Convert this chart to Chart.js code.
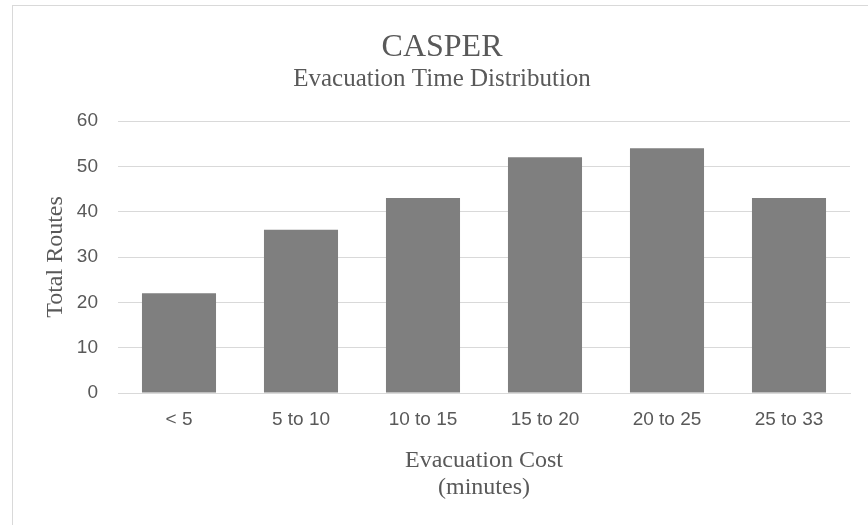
<!DOCTYPE html>
<html>
<head>
<meta charset="utf-8">
<script src="https://cdn.jsdelivr.net/npm/chart.js@4/dist/chart.umd.min.js"></script>
<style>
  html, body { margin: 0; padding: 0; background: #fff; overflow: hidden; }
  #wrap { position: relative; width: 868px; height: 525px; }
  #frame { position: absolute; left: 12px; top: 5px; width: 870px; height: 530px; border: 1px solid #d9d9d9; box-sizing: border-box; }
  canvas { position: absolute; left: 0; top: 0; }
</style>
</head>
<body>
<div id="wrap">
  <div id="frame"></div>
  <canvas id="chart" width="868" height="525"></canvas>
</div>
<script>
// chart data
const categories = ['< 5', '5 to 10', '10 to 15', '15 to 20', '20 to 25', '25 to 33'];
const totalRoutes = [22, 36, 43, 52, 54, 43];
const yTicks = [0, 10, 20, 30, 40, 50, 60];

const textColor = '#595959';
const serif = '"Liberation Serif", "Times New Roman", serif';
const sans = '"Liberation Sans", Arial, sans-serif';

const config = {
    type: 'bar',
    data: {
        labels: categories,
        datasets: [{
            label: 'Total Routes',
            data: totalRoutes,
            backgroundColor: '#7f7f7f',
            categoryPercentage: 0.607,
            barPercentage: 1.0
        }]
    },
    options: {
        responsive: false,
        animation: false,
        // left padding pushes the titles to the centre of the frame
        layout: { padding: { left: 34, right: 18, top: 0, bottom: 0 } },
        plugins: {
            legend: { display: false },
            tooltip: { enabled: false },
            title: {
                display: true,
                text: 'CASPER',
                color: textColor,
                font: { family: serif, size: 32, weight: 'normal', lineHeight: 1.0 },
                padding: { top: 32, bottom: 0 }
            },
            subtitle: {
                display: true,
                text: 'Evacuation Time Distribution',
                color: textColor,
                font: { family: serif, size: 25, lineHeight: 1.0 },
                padding: { top: 3, bottom: 29 }
            }
        },
        scales: {
            x: {
                grid: { display: false, drawTicks: false },
                border: { display: true, color: '#d9d9d9' },
                ticks: { color: textColor, font: { family: sans, size: 19 }, padding: 15, maxRotation: 0 },
                title: {
                    display: true,
                    text: ['Evacuation Cost', '(minutes)'],
                    color: textColor,
                    font: { family: serif, size: 24, lineHeight: 1.125 },
                    padding: { top: 0, bottom: 24 }
                },
                afterFit: function(scale) { scale.height = 132; }
            },
            y: {
                min: 0,
                max: 60,
                afterBuildTicks: function(scale) {
                    scale.ticks = yTicks.map(v => ({ value: v }));
                },
                grid: { color: '#d9d9d9', drawTicks: false },
                border: { display: false },
                ticks: { color: textColor, font: { family: sans, size: 19 }, padding: 20 },
                title: {
                    display: true,
                    text: 'Total Routes',
                    color: textColor,
                    font: { family: serif, size: 24, lineHeight: 1.2 },
                    padding: { top: 7, bottom: 0 }
                },
                afterFit: function(scale) { scale.width = 84; }
            }
        }
    }
};

new Chart(document.getElementById('chart'), config);
</script>
</body>
</html>
